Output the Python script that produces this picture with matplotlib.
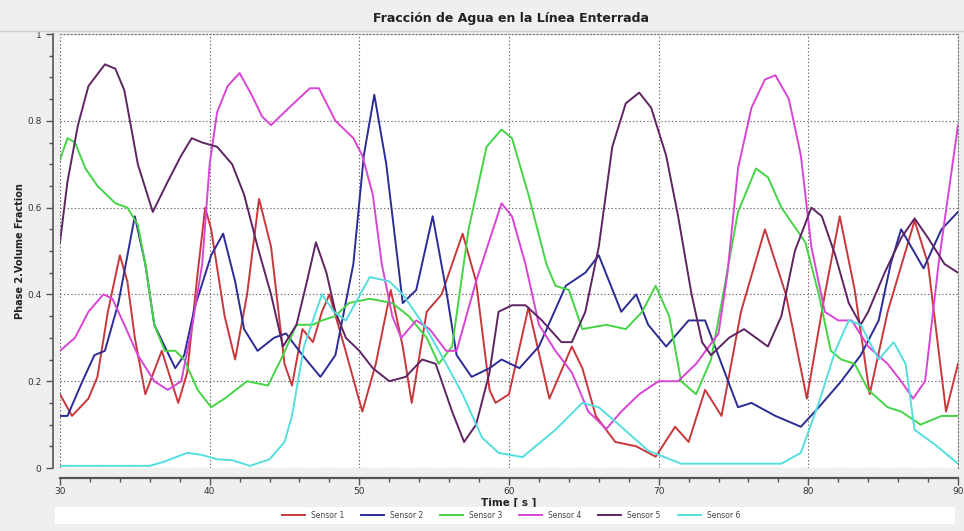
import matplotlib
matplotlib.use('Agg')
import matplotlib.pyplot as plt
from matplotlib.patches import Rectangle
from matplotlib.ticker import MultipleLocator

# values, one (time, value) list per sensor
t1 = [30.0, 30.8, 31.9, 32.5, 33.2, 34.0, 34.5, 35.0, 35.7, 36.8, 37.9, 38.5, 39.2, 39.7, 40.1,
      41.0, 41.7, 42.5, 43.3, 44.1, 45.0, 45.5, 46.2, 46.9, 47.5, 48.0, 49.0, 50.2, 51.1, 52.1,
      52.9, 53.5, 54.5, 55.5, 56.9, 57.8, 58.7, 59.1, 60.0, 61.3, 62.7, 64.2, 64.9, 65.8, 67.1,
      68.5, 69.8, 71.1, 72.0, 73.1, 74.2, 75.5, 77.1, 78.5, 79.9, 81.1, 82.1, 83.1, 84.1, 85.3,
      87.1, 88.0, 89.2, 90.0]
s1 = [0.17, 0.12, 0.16, 0.21, 0.36, 0.49, 0.43, 0.30, 0.17, 0.27, 0.15, 0.22, 0.45, 0.60, 0.55,
      0.35, 0.25, 0.40, 0.62, 0.51, 0.24, 0.19, 0.32, 0.29, 0.36, 0.40, 0.28, 0.13, 0.24, 0.41,
      0.28, 0.15, 0.36, 0.40, 0.54, 0.43, 0.18, 0.15, 0.17, 0.37, 0.16, 0.28, 0.23, 0.12, 0.06,
      0.05, 0.026, 0.095, 0.06, 0.18, 0.12, 0.36, 0.55, 0.40, 0.16, 0.40, 0.58, 0.41, 0.17, 0.36,
      0.57, 0.47, 0.13, 0.24]

t2 = [30.0, 30.5, 31.5, 32.3, 33.0, 33.9, 35.0, 35.7, 36.3, 37.7, 38.3, 39.0, 40.1, 40.9, 41.7,
      42.3, 43.2, 44.3, 45.1, 46.2, 47.4, 48.4, 49.6, 50.3, 51.0, 51.8, 52.9, 53.8, 54.9, 55.8,
      56.5, 57.5, 58.7, 59.5, 60.7, 62.0, 63.8, 65.1, 66.0, 67.5, 68.5, 69.3, 70.5, 72.0, 73.1,
      74.2, 75.3, 76.2, 77.8, 79.5, 80.7, 82.2, 83.5, 84.7, 85.5, 86.2, 87.7, 88.9, 90.0]
s2 = [0.12, 0.12, 0.20, 0.26, 0.27, 0.38, 0.58, 0.47, 0.33, 0.23, 0.26, 0.37, 0.49, 0.54, 0.43,
      0.32, 0.27, 0.30, 0.31, 0.26, 0.21, 0.26, 0.47, 0.72, 0.86, 0.70, 0.38, 0.41, 0.58, 0.41,
      0.26, 0.21, 0.23, 0.25, 0.23, 0.28, 0.42, 0.45, 0.49, 0.36, 0.40, 0.33, 0.28, 0.34, 0.34,
      0.24, 0.14, 0.15, 0.12, 0.095, 0.14, 0.20, 0.26, 0.34, 0.47, 0.55, 0.46, 0.55, 0.59]

t3 = [30.0, 30.5, 31.0, 31.7, 32.5, 33.7, 34.5, 35.2, 35.7, 36.3, 37.0, 37.7, 38.3, 39.2, 40.1,
      41.0, 42.5, 43.9, 44.9, 45.8, 46.9, 47.5, 48.4, 49.3, 50.7, 52.2, 53.3, 54.5, 55.3, 56.2,
      57.3, 58.5, 59.5, 60.2, 61.3, 62.5, 63.1, 64.0, 64.9, 66.5, 67.8, 68.9, 69.8, 70.7, 71.5,
      72.5, 73.5, 74.2, 75.3, 76.5, 77.3, 78.2, 79.8, 80.7, 81.5, 82.2, 83.1, 84.0, 85.3, 86.2,
      87.5, 88.9, 90.0]
s3 = [0.71, 0.76, 0.75, 0.69, 0.65, 0.61, 0.60, 0.56, 0.47, 0.33, 0.27, 0.27, 0.25, 0.18, 0.14,
      0.16, 0.20, 0.19, 0.26, 0.33, 0.33, 0.34, 0.35, 0.38, 0.39, 0.38, 0.35, 0.30, 0.24, 0.28,
      0.55, 0.74, 0.78, 0.76, 0.63, 0.47, 0.42, 0.41, 0.32, 0.33, 0.32, 0.36, 0.42, 0.35, 0.20,
      0.17, 0.25, 0.38, 0.59, 0.69, 0.67, 0.60, 0.52, 0.40, 0.27, 0.25, 0.24, 0.18, 0.14, 0.13,
      0.10, 0.12, 0.12]

t4 = [30.0, 31.0, 31.9, 32.9, 33.5, 34.3, 35.2, 36.3, 37.2, 38.1, 38.8, 39.5, 40.0, 40.5, 41.2,
      42.0, 42.8, 43.5, 44.1, 45.3, 46.7, 47.3, 48.4, 49.6, 50.2, 50.9, 51.5, 52.2, 52.8, 53.8,
      54.7, 55.8, 56.5, 57.8, 59.5, 60.2, 61.1, 62.0, 63.1, 64.2, 65.3, 66.5, 67.5, 68.7, 70.0,
      71.3, 72.5, 74.0, 74.6, 75.3, 76.2, 77.1, 77.8, 78.7, 79.5, 80.2, 81.1, 82.0, 82.9, 84.0,
      85.3, 86.2, 87.0, 87.8, 88.7, 90.0]
s4 = [0.27, 0.30, 0.36, 0.40, 0.39, 0.33, 0.26, 0.20, 0.18, 0.20, 0.32, 0.47, 0.70, 0.82, 0.88,
      0.91, 0.86, 0.81, 0.79, 0.83, 0.875, 0.875, 0.80, 0.76, 0.72, 0.63, 0.47, 0.35, 0.30, 0.34,
      0.32, 0.27, 0.27, 0.43, 0.61, 0.58, 0.47, 0.33, 0.27, 0.22, 0.13, 0.09, 0.13, 0.17, 0.20,
      0.20, 0.24, 0.31, 0.45, 0.69, 0.83, 0.895, 0.905, 0.85, 0.72, 0.51, 0.36, 0.34, 0.34, 0.28,
      0.24, 0.20, 0.16, 0.20, 0.47, 0.79]

t5 = [30.0, 30.5, 31.2, 31.9, 33.0, 33.7, 34.3, 35.2, 36.2, 37.2, 38.1, 38.8, 39.5, 40.5, 41.5,
      42.3, 43.2, 44.1, 44.9, 45.8, 46.5, 47.1, 47.8, 48.4, 49.1, 50.0, 50.9, 52.0, 53.1, 54.2,
      55.1, 56.2, 57.0, 57.8, 58.7, 59.3, 60.2, 61.1, 62.2, 63.5, 64.2, 65.1, 66.0, 66.9, 67.8,
      68.7, 69.5, 70.5, 71.3, 72.2, 72.9, 73.5, 74.7, 75.7, 76.5, 77.3, 78.2, 79.1, 80.2, 80.9,
      81.8, 82.7, 83.5, 84.0, 85.1, 86.2, 87.1, 88.0, 89.1, 90.0]
s5 = [0.52, 0.66, 0.79, 0.88, 0.93, 0.92, 0.87, 0.70, 0.59, 0.66, 0.72, 0.76, 0.75, 0.74, 0.70,
      0.63, 0.51, 0.40, 0.28, 0.33, 0.43, 0.52, 0.45, 0.36, 0.30, 0.27, 0.23, 0.20, 0.21, 0.25,
      0.24, 0.13, 0.06, 0.10, 0.22, 0.36, 0.375, 0.375, 0.34, 0.29, 0.29, 0.36, 0.51, 0.74, 0.84,
      0.865, 0.83, 0.72, 0.58, 0.40, 0.29, 0.26, 0.30, 0.32, 0.30, 0.28, 0.35, 0.50, 0.60, 0.58,
      0.49, 0.38, 0.33, 0.36, 0.45, 0.53, 0.575, 0.53, 0.47, 0.45]

t6 = [30.0, 36.0, 37.0, 38.5, 39.5, 40.5, 41.5, 42.7, 44.0, 45.0, 45.5, 46.3, 47.5, 48.3, 49.1,
      50.7, 52.0, 52.9, 54.5, 55.8, 56.9, 58.2, 59.3, 60.9, 63.1, 64.9, 66.0, 67.5, 69.3, 71.5,
      74.0, 78.2, 79.5, 80.7, 81.8, 82.7, 83.5, 84.7, 85.7, 86.5, 87.1, 88.5, 90.0]
s6 = [0.005, 0.005, 0.015, 0.035, 0.03, 0.02, 0.018, 0.005, 0.02, 0.06, 0.12, 0.28, 0.40, 0.36,
      0.34, 0.44, 0.43, 0.40, 0.32, 0.24, 0.17, 0.07, 0.035, 0.025, 0.088, 0.15, 0.14, 0.095,
      0.04, 0.01, 0.01, 0.01, 0.035, 0.15, 0.27, 0.34, 0.33, 0.25, 0.29, 0.24, 0.088, 0.053, 0.01]

labels = ['Sensor 1', 'Sensor 2', 'Sensor 3', 'Sensor 4', 'Sensor 5', 'Sensor 6']
colors = ['#c8373a', '#2b2c96', '#44d444', '#d845d4', '#5e2463', '#55dede']

fig = plt.figure(figsize=(9.64, 5.31), dpi=100, facecolor='#efefef')
ax = fig.add_axes([60 / 964, 63 / 531, 898 / 964, 434 / 531])
ax.set_facecolor('white')

series = [(t1, s1), (t2, s2), (t3, s3), (t4, s4), (t5, s5), (t6, s6)]
for (t, s), lab, c in zip(series, labels, colors):
    ax.plot(t, s, color=c, lw=1.4, label=lab, solid_joinstyle='round')

ax.set_xlim(30, 90)
ax.set_ylim(0, 1)
ax.xaxis.set_major_locator(MultipleLocator(10))
ax.xaxis.set_minor_locator(MultipleLocator(2))
ax.yaxis.set_minor_locator(MultipleLocator(0.05))
ax.set_yticks([0, 0.2, 0.4, 0.6, 0.8, 1.0])
ax.set_yticklabels(['0', '0.2', '0.4', '0.6', '0.8', '1'])

ax.grid(True, which='major', color='#666666', ls=(0, (1.2, 2)), lw=0.8)
for side in ['top', 'right']:
    ax.spines[side].set_linestyle((0, (1.2, 2)))
    ax.spines[side].set_color('#777777')
ax.spines['left'].set_position(('outward', 5))
ax.spines['bottom'].set_position(('outward', 7))
ax.spines['left'].set_color('#555555')
ax.spines['bottom'].set_color('#555555')
ax.spines['bottom'].set_linewidth(1.6)
ax.spines['left'].set_linewidth(1.2)
ax.tick_params(which='major', length=5, width=1, colors='#555555', labelsize=6.5, labelcolor='#333333')
ax.tick_params(which='minor', length=3, width=1, colors='#555555')
ax.tick_params(axis='x', pad=1.5)

# dotted inner frame on the left and bottom edges of the plot area
ax.axvline(30, color='#777777', ls=(0, (1.2, 2)), lw=0.8)
ax.axhline(0, color='#777777', ls=(0, (1.2, 2)), lw=0.8)

ax.set_xlabel('Time [ s ]', fontsize=7.5, fontweight='bold', color='#222222')
ax.xaxis.set_label_coords(0.5, -0.068)
ax.set_ylabel('Phase 2.Volume Fraction', fontsize=7, fontweight='bold', color='#222222', labelpad=1)

fig.text(0.53, 0.966, 'Fracción de Agua en la Línea Enterrada', ha='center', va='center',
         fontsize=9, fontweight='bold', color='#222222')
fig.add_artist(plt.Line2D([0, 1], [1 - 31 / 531] * 2, color='#cccccc', lw=1.0))
fig.add_artist(Rectangle((55 / 964, 7 / 531), 900 / 964, 17 / 531, transform=fig.transFigure,
                         facecolor='white', edgecolor='none'))

fig.legend(loc='center', bbox_to_anchor=(0.53, 15.5 / 531), ncol=6, frameon=False,
           fontsize=5.5, handlelength=3, columnspacing=2.2, handletextpad=0.8, labelcolor='#444444')

fig.savefig('out.png', dpi=100, facecolor=fig.get_facecolor())
